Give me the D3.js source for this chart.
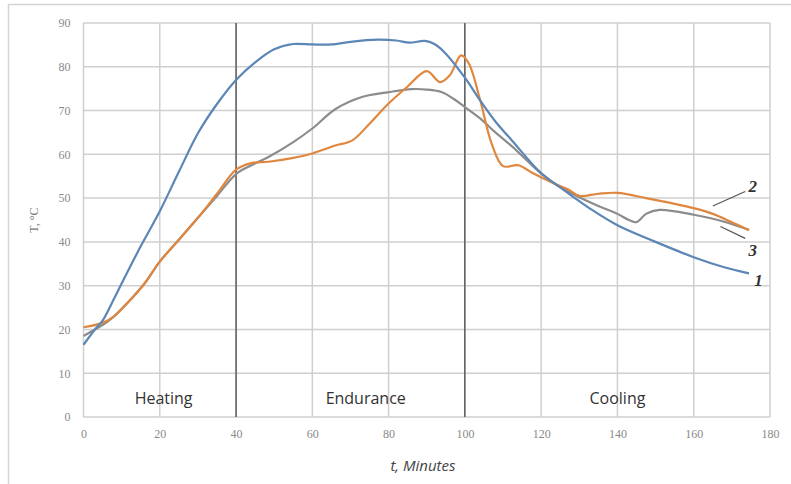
<!DOCTYPE html>
<html>
<head>
<meta charset="utf-8">
<script src="https://cdn.jsdelivr.net/npm/d3@7"></script>
<style>
  body { margin: 0; background: #fff; }
  svg { display: block; }
</style>
</head>
<body>
<div id="chart"></div>
<script>
// time (minutes) / temperature (°C) for the three curves
var curve1 = [
  [0, 16.5], [3, 20], [5, 22], [8, 27], [10, 30.5], [15, 39], [20, 47], [25, 56], [30, 64.8],
  [35, 71.5], [40, 77], [45, 81], [50, 84], [55, 85.2], [60, 85.1], [65, 85.1],
  [70, 85.7], [77, 86.2], [82, 86], [85.5, 85.5], [89.5, 85.9], [92, 85.2], [95, 83],
  [100, 77.5], [104, 72.3], [108, 67.5], [112.5, 63], [120, 55.7], [126.5, 51.5],
  [133, 47.5], [140, 43.8], [150, 40], [160, 36.5], [168, 34.2], [174.5, 32.8]
];
var curve2 = [
  [0, 20.5], [5, 21.5], [8, 23], [12, 26.5], [16, 30.5], [20, 35.5], [25, 40.5], [30, 45.5],
  [35, 51], [40, 56.5], [44, 58], [48.5, 58.3], [55, 59.2], [60, 60.2], [66, 62],
  [70.5, 63.2], [75, 67], [80, 71.6], [85, 75.5], [90, 79], [93.5, 76.5], [96, 78],
  [99, 82.6], [101, 80.8], [104, 72.4], [107, 62.5], [110, 57.3], [114, 57.5],
  [118, 55.6], [123, 53.5], [127, 52], [130, 50.5], [135, 51], [140, 51.2], [147.5, 50],
  [155, 48.7], [160, 47.7], [165, 46.4], [170, 44.5], [174.5, 42.7]
];
var curve3 = [
  [0, 18.5], [3, 20], [5, 21], [8, 23], [12, 26.5], [16, 30.5], [20, 35.5], [25, 40.5],
  [30, 45.5], [35, 50.5], [40, 55.5], [44, 57.5], [48.5, 59.4], [55, 62.8], [60, 65.9],
  [66, 70.3], [73, 73.1], [80, 74.2], [86, 74.9], [90, 74.8], [94, 74.2], [97, 72.7],
  [100, 70.8], [104, 68.2], [108, 65], [112.5, 61.7], [120, 55.6], [125, 52.5],
  [130, 50.2], [135, 48.2], [140, 46.4], [143, 45], [145, 44.5], [147.5, 46.4],
  [151, 47.3], [160, 46.2], [168.5, 44.5], [174.5, 42.7]
];
var xTicks = [0, 20, 40, 60, 80, 100, 120, 140, 160, 180];
var yTicks = [0, 10, 20, 30, 40, 50, 60, 70, 80, 90];
var phaseBounds = [40, 100];
var phaseNames = ["Heating", "Endurance", "Cooling"];
var phaseMid = [21, 74, 140];
var curveNames = ["1", "2", "3"];

var W = 791, H = 484;
var margin = { left: 83.5, right: 21, top: 23, bottom: 67 };

var svg = d3.select("#chart").append("svg")
  .attr("width", W).attr("height", H);

// faint outer frame like the source figure
svg.append("line").attr("x1", 8).attr("x2", W).attr("y1", 4.5).attr("y2", 4.5)
  .attr("stroke", "#d4d4d4").attr("stroke-width", 1.5);
svg.append("line").attr("x1", 8.5).attr("x2", 8.5).attr("y1", 4).attr("y2", H)
  .attr("stroke", "#d4d4d4").attr("stroke-width", 1.5);

var x = d3.scaleLinear().domain([0, 180]).range([margin.left, W - margin.right]);
var y = d3.scaleLinear().domain([0, 90]).range([H - margin.bottom, margin.top]);

// grid
var g = svg.append("g");
g.selectAll(".hgrid").data(yTicks).enter().append("line")
  .attr("x1", x(0)).attr("x2", x(180))
  .attr("y1", d => y(d)).attr("y2", d => y(d))
  .attr("stroke", "#cfcfcf").attr("stroke-width", 1.5);
g.selectAll(".vgrid").data(xTicks).enter().append("line")
  .attr("x1", d => x(d)).attr("x2", d => x(d))
  .attr("y1", y(0)).attr("y2", y(90))
  .attr("stroke", "#cfcfcf").attr("stroke-width", 1.5);

// axes (labels only, Excel style)
var xAxis = d3.axisBottom(x).tickValues(xTicks).tickSize(0).tickPadding(12);
svg.append("g").attr("transform", "translate(0," + y(0) + ")").call(xAxis)
  .call(a => a.select(".domain").remove())
  .selectAll("text").attr("fill", "#8a8a8a").style("font-family", "Liberation Serif, serif").style("font-size", "12px");
var yAxis = d3.axisLeft(y).tickValues(yTicks).tickSize(0).tickPadding(13);
svg.append("g").attr("transform", "translate(" + x(0) + ",0)").call(yAxis)
  .call(a => a.select(".domain").remove())
  .selectAll("text").attr("fill", "#8a8a8a").style("font-family", "Liberation Serif, serif").style("font-size", "12px");

// phase separators
svg.selectAll(".phase").data(phaseBounds).enter().append("line")
  .attr("x1", d => x(d)).attr("x2", d => x(d))
  .attr("y1", y(0)).attr("y2", y(90))
  .attr("stroke", "#222").attr("stroke-width", 1);

svg.selectAll(".phaseName").data(phaseNames).enter().append("text")
  .attr("x", (d, i) => x(phaseMid[i]))
  .attr("y", y(2.9))
  .attr("text-anchor", "middle")
  .style("font-family", "Open Sans, sans-serif").style("font-size", "16px")
  .attr("fill", "#333")
  .text(d => d);

// curves
var line = d3.line().x(d => x(d[0])).y(d => y(d[1])).curve(d3.curveCatmullRom.alpha(0.5));
var curves = [curve1, curve2, curve3];
var colors = ["#5b86b5", "#e0873f", "#8c8c8c"];
[2, 1, 0].forEach(function (i) {
  svg.append("path").datum(curves[i])
    .attr("d", line)
    .attr("fill", "none")
    .attr("stroke", colors[i])
    .attr("stroke-width", 2.2)
    .attr("stroke-linejoin", "round");
});

// curve labels with leaders (curve 1 label sits at the end of its line)
var leaders = [null, [165, 48.2, 173.5, 51.5], [167, 43.5, 173.5, 40.8]];
var labelAt = [[177, 31.3], [175.5, 52.8], [175.5, 38.2]];
curveNames.forEach(function (name, i) {
  var p = leaders[i];
  if (p) {
    svg.append("line")
      .attr("x1", x(p[0])).attr("y1", y(p[1]))
      .attr("x2", x(p[2])).attr("y2", y(p[3]))
      .attr("stroke", "#555").attr("stroke-width", 1.2);
  }
  svg.append("text")
    .attr("x", x(labelAt[i][0])).attr("y", y(labelAt[i][1]) + 6)
    .attr("text-anchor", "middle")
    .style("font-family", "Liberation Serif, serif").style("font-size", "17px")
    .style("font-weight", "bold").style("font-style", "italic")
    .attr("fill", "#333")
    .text(name);
});

// axis titles
svg.append("text")
  .attr("transform", "translate(38," + y(45) + ") rotate(-90)")
  .attr("text-anchor", "middle")
  .style("font-family", "Liberation Serif, serif").style("font-size", "12px")
  .attr("fill", "#777")
  .text("T, °C");
svg.append("text")
  .attr("x", x(89)).attr("y", 471)
  .attr("text-anchor", "middle")
  .style("font-family", "Open Sans, sans-serif").style("font-size", "15px")
  .style("font-style", "italic")
  .attr("fill", "#444")
  .text("t, Minutes");
</script>
</body>
</html>
